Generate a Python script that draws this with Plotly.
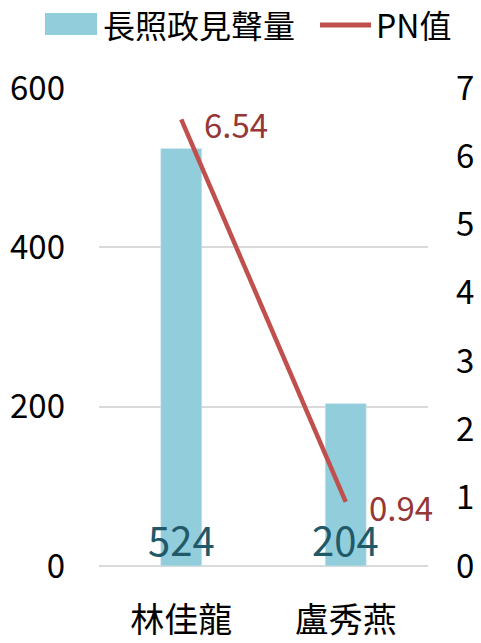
import plotly.graph_objects as go

categories = ["林佳龍", "盧秀燕"]
volume = [524, 204]
pn = [6.54, 0.94]
pn_labels = ["6.54", "0.94"]
series_names = ["長照政見聲量", "PN值"]
bar_color = "#92CDDC"
line_color = "#C0504D"

FONT = "Noto Sans CJK TC, Noto Sans, sans-serif"
W, H = 481, 643
L, R, T, B = 99, 53, 88, 77
PW, PH = W - L - R, H - T - B

def px(x):
    return (x - L) / PW

def py(y):
    return (H - B - y) / PH

fig = go.Figure()
fig.add_trace(go.Bar(
    x=categories, y=volume, name=series_names[0],
    marker=dict(color=bar_color), width=0.25, yaxis="y",
))
fig.add_trace(go.Scatter(
    x=categories, y=pn, name=series_names[1], mode="lines",
    line=dict(color=line_color, width=4.5), yaxis="y2",
))

for c, v in zip(categories, volume):
    fig.add_annotation(x=c, y=0, yref="y", text=str(v), showarrow=False,
                       yanchor="bottom", yshift=-4,
                       font=dict(family=FONT, size=40, color="#215968"))
for c, v, t in zip(categories, pn, pn_labels):
    fig.add_annotation(x=c, y=v, yref="y2", text=t, showarrow=False,
                       xanchor="left", xshift=21, yshift=-5,
                       font=dict(family=FONT, size=33, color="#953735"))

# manual legend
fig.add_shape(type="rect", xref="paper", yref="paper",
              x0=px(45), x1=px(97), y0=py(35), y1=py(13),
              fillcolor=bar_color, line=dict(width=0))
fig.add_annotation(xref="paper", yref="paper", x=px(101), y=py(24), text=series_names[0],
                   showarrow=False, xanchor="left", yanchor="middle",
                   font=dict(family=FONT, size=32, color="#000000"))
fig.add_shape(type="line", xref="paper", yref="paper",
              x0=px(320), x1=px(371), y0=py(25), y1=py(25),
              line=dict(color=line_color, width=5))
fig.add_annotation(xref="paper", yref="paper", x=px(374), y=py(24), text=series_names[1],
                   showarrow=False, xanchor="left", yanchor="middle",
                   font=dict(family=FONT, size=32, color="#000000"))

fig.update_layout(
    width=W, height=H,
    margin=dict(l=L, r=R, t=T, b=B, autoexpand=False),
    paper_bgcolor="white", plot_bgcolor="white",
    font=dict(family=FONT, size=33, color="#000000"),
    showlegend=False,
    xaxis=dict(range=[-0.5, len(categories) - 0.5], showline=False, ticks="",
               tickfont=dict(size=34), ticklabelstandoff=31),
    yaxis=dict(range=[0, 600], dtick=200, showgrid=True, gridcolor="#D9D9D9",
               gridwidth=1.5, zeroline=True, zerolinecolor="#D9D9D9", zerolinewidth=2,
               showline=False, ticks="", ticklabelstandoff=33),
    yaxis2=dict(range=[0, 7], dtick=1, overlaying="y", side="right",
                showgrid=False, zeroline=False, showline=False, ticks="",
                ticklabelstandoff=27),
)

fig.write_html("out.html", config={"displayModeBar": False},
               post_script="document.body.style.margin='0';document.body.style.overflow='hidden';")
